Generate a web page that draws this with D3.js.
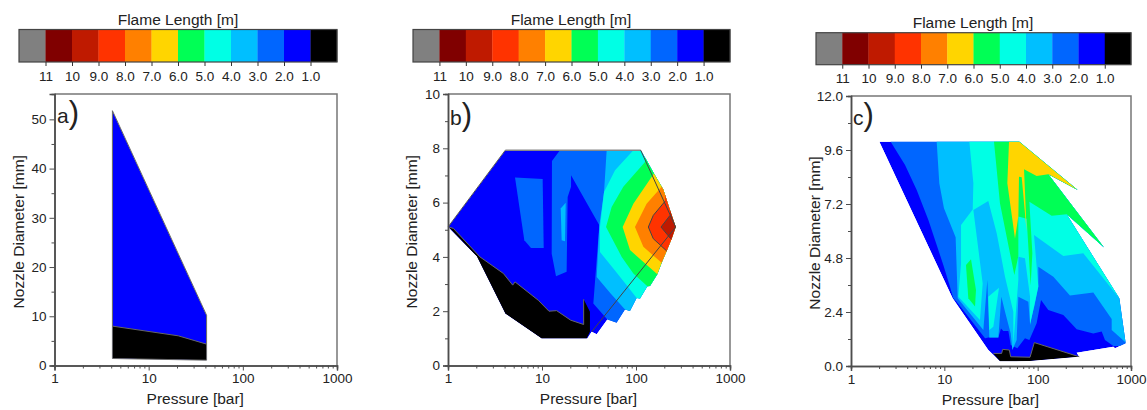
<!DOCTYPE html>
<html><head><meta charset="utf-8">
<script src="https://cdn.jsdelivr.net/npm/d3@7"></script>
<style>html,body{margin:0;padding:0;background:#fff}svg{display:block}text{font-family:"Liberation Sans",Arial,sans-serif;fill:#222}</style>
</head><body><svg id="c" width="1147" height="410"></svg>
<script>
// Colour scale (legend)
const legendColors=["#808080","#800000","#bf1a00","#ff3300","#ff8000","#ffd500","#00ff55","#00ffe5","#00bfff","#0066ff","#0000ff","#000000"];
const legendLabels=["11","10","9.0","8.0","7.0","6.0","5.0","4.0","3.0","2.0","1.0"];
const xTicks=[1,10,100,1000];
const xMinor=[2,3,4,5,6,7,8,9,20,30,40,50,60,70,80,90,200,300,400,500,600,700,800,900];
const B1="#0000ff",B2="#0066ff",B3="#00bfff",B4="#00ffe5",B5="#00ff55",B6="#ffd500",B7="#ff8000",B8="#ff3300",B9="#bf1a00",K="#000000";

// All outlines: [log10(pressure/bar), nozzle diameter/mm]
// Panel a
const aHull=[[.615,51.76],[1.615,10.2],[1.615,1.08],[.615,1.42]];
const aBlack=[[.615,8],[1.314,6.03],[1.615,4.34],[1.615,1.08],[.615,1.42]];
// Panel b
const bHull=[[0,5.1],[.61,7.93],[2.05,7.93],[2.113,7.56],[2.191,7.07],[2.291,6.48],[2.362,5.72],[2.422,5.1],[2.379,4.67],[2.326,4.22],[2.273,3.78],[2.227,3.36],[2.149,2.93],[2.121,2.92],[2.043,2.47],[2.007,2.49],[1.936,2.01],[1.883,2.06],[1.794,1.57],[1.695,1.69],[1.582,1.15],[1.528,1.24],[1.482,.99],[.996,.99],[.61,1.91],[.305,4.02]];
const bBlack=[[.007,5.1],[.305,4.02],[.61,1.91],[.996,.99],[1.475,.99],[1.51,1.24],[1.51,1.98],[1.443,2.44],[1.443,1.51],[1.305,1.67],[1.156,2.02],[1.074,2],[.961,2.4],[.713,3.08],[.688,2.96],[.589,3.39],[.34,4],[.057,5.05]];
const bIsland2=[[.713,6.92],[1.007,6.87],[1.018,4.33],[.883,4.33],[.812,4.61]];
const bIsland3=[[1.252,5.99],[1.199,5.78],[1.209,4.61],[1.245,4.58]];
const bBand2=[[1.191,7.93],[1.106,7.53],[1.103,4.12],[1.149,3.29],[1.262,3.45],[1.273,6.21],[1.309,6.58],[1.309,7.01],[1.61,5.17],[1.546,2.28],[1.695,1.69],[1.794,1.3]];
const bBand3=[[1.688,7.93],[1.66,6.39],[1.61,5.17],[1.582,3.26],[1.73,2.65],[1.883,2.06],[1.936,1.67]];
const bBand4=[[1.972,7.93],[1.777,7.19],[1.66,6.39],[1.617,5.1],[1.617,4.18],[1.759,3.57],[1.901,2.96],[2.007,2.49],[2.06,2.04]];
const bBand5=[[2.096,7.5],[1.865,6.58],[1.741,5.84],[1.681,5.1],[1.848,4],[1.972,3.39],[2.121,2.92],[2.184,2.4]];
const bBand6=[[2.191,7.07],[1.972,5.96],[1.858,5.1],[1.936,4.25],[2.227,3.36],[2.29,2.9]];
const bBand7=[[2.273,6.58],[2.113,5.96],[1.989,5.1],[2.078,4.37],[2.273,3.78],[2.326,3.39]];
const bBand8=[[2.309,6.05],[2.184,5.53],[2.131,5.1],[2.184,4.67],[2.326,4.22],[2.397,3.94]];
const bBand9=[[2.362,5.53],[2.266,5.1],[2.369,4.67],[2.433,4.37]];
const bLine1=[[0,5.1],[.61,7.93]];
const bLine2=[[.61,7.93],[2.05,7.93]];
const bLine3=[[2.05,7.93],[2.422,5.1],[1.528,1.24]];
const bLine4=[[2.309,6.05],[2.184,5.53],[2.131,5.1],[2.184,4.67],[2.326,4.22]];
const bLine5=[[2.362,5.53],[2.266,5.1],[2.369,4.67]];
// Panel c
const cHull=[[.304,9.97],[1.804,9.97],[2.429,7.82],[2.114,8.52],[2.711,5.27],[2.311,6.74],[2.875,3.01],[2.943,1.01],[2.829,.79],[2.811,.86],[2.418,.59],[2.446,.41],[1.918,.22],[1.596,.21],[1.471,.71],[1.089,3.01]];
const cBand2=[[.425,9.97],[.579,8.93],[.704,7.82],[.829,6.49],[.989,4.49],[1.05,3.67],[1.096,3.01],[1.132,2.86],[1.436,1.23],[1.471,1.27],[1.579,1.27],[1.607,1.67],[1.632,1.56],[1.686,1.56],[1.711,.93],[1.782,.79],[1.864,1.23],[1.911,1.16],[1.989,1.9],[2.036,2.93],[2.114,2.49],[2.275,2.27],[2.418,1.63],[2.596,1.45],[2.686,1.53],[2.721,1.16],[2.811,.89]];
const cBand3=[[.918,9.97],[.946,8.12],[.996,7.01],[1.121,5.72],[1.143,3.01],[1.418,1.6],[1.461,3.82],[1.482,1.27],[1.579,1.27],[1.611,3.08],[1.65,2.41],[1.711,1.45],[1.729,.71],[1.775,1.16],[1.793,3.08],[1.9,2.86],[1.918,1.9],[1.964,2.64],[2.007,3.53],[2.007,4.41],[2.168,3.97],[2.346,3.13],[2.596,3.27],[2.793,2.09],[2.793,1.6],[2.943,1.04]];
const cBand4=[[1.268,9.97],[1.311,8.12],[1.304,6.96],[1.179,6.27],[1.179,4.56],[1.15,3.08],[1.382,2.04],[1.411,3.67],[1.311,6.93],[1.471,7.33],[1.561,5.9],[1.65,3.97],[1.739,2.41],[1.739,.93],[1.793,3.82],[1.793,4.86],[1.864,4.79],[1.918,3.08],[1.918,1.82],[2.007,3.53],[1.961,5.82],[2.275,4.89],[2.489,5.01],[2.875,3.01]];
const cBand4b=[[1.471,3.08],[1.586,3.48],[1.525,1.75],[1.482,1.6]];
const cBand5=[[1.532,9.97],[1.596,7.23],[1.75,4.04],[1.793,4.89],[1.793,6.64],[1.882,6.55],[1.925,3.57],[1.943,5.01],[1.911,7.3],[2.15,6.68],[2.311,6.74],[2.711,5.27]];
const cBand5b=[[1.286,4.74],[1.232,4.49],[1.257,3.01],[1.329,2.64],[1.339,3.38]];
const cBand6=[[1.693,9.97],[1.675,8.12],[1.757,5.67],[1.793,6.64],[1.8,8.41],[1.829,8.39],[1.882,5.97],[1.854,8.74],[1.989,8.44],[2.114,8.52],[2.429,7.82],[1.804,9.97]];
const cBlack=[[1.525,.56],[1.614,.56],[1.625,.74],[1.696,.71],[1.711,.41],[1.918,.39],[1.964,1.04],[2.446,.41],[1.918,.22],[1.596,.21]];

// Polygons that run off the right of the hull are closed outside it and clipped
const past=p=>{const a=p[0],z=p[p.length-1];return p.concat([[3.3,z[1]],[3.3,14],[a[0],14]])};

const panels=[
 {id:"a",label:"a",box:[54.5,337,94,365.5],yMax:55.15,yTicks:[0,10,20,30,40,50],yMinor:[5,15,25,35,45],fmt:d3.format("d"),
  bar:[19,337,29.5,62],title:178,tx:57,ty:123,hull:aHull,
  layers:[[aHull,B1],[aBlack,K]],lines:[[aHull.concat([aHull[0]]),"#666",1],[[aBlack[0],aBlack[1],aBlack[2]],"#666",1]]},
 {id:"b",label:"b",box:[448,730,94,365.5],yMax:10,yTicks:[0,2,4,6,8,10],yMinor:[1,3,5,7,9],fmt:d3.format("d"),
  bar:[413,730,29.5,62],title:571,tx:450,ty:125,hull:bHull,
  layers:[[bHull,B1],[past(bBand2),B2],[bIsland2,B2],[bIsland3,B3],[past(bBand3),B3],[past(bBand4),B4],[past(bBand5),B5],[past(bBand6),B6],[past(bBand7),B7],[past(bBand8),B8],[past(bBand9),B9],[bBlack,K]],
  lines:[[bLine1,"#555",1],[bLine2,"#888",1.5],[bLine3,"#444",1],[bLine4,"#444",1],[bLine5,"#444",1],[bBlack.slice(7).concat([bBlack[0]]),"#666",1]]},
 {id:"c",label:"c",box:[851,1131,96,366],yMax:12,yTicks:[0,2.4,4.8,7.2,9.6,12],yMinor:[1.2,3.6,6,8.4,10.8],fmt:d3.format(".1f"),
  bar:[816,1131,32.7,64.7],title:973,tx:853,ty:125,hull:cHull,
  layers:[[cHull,B1],[past(cBand2),B2],[past(cBand3),B3],[past(cBand4),B4],[cBand4b,B4],[past(cBand5),B5],[cBand5b,B5],[cBand6,B6],[cBlack,K]],
  lines:[[cBlack.slice(0,8),"#666",1]]}
];

const svg=d3.select("#c");
const AX="#4d4d4d",FR="#777";
panels.forEach(P=>{
 const [L,R,T,Bt]=P.box;
 const x=d3.scaleLog().domain([1,1000]).range([L,R]);
 const y=d3.scaleLinear().domain([0,P.yMax]).range([Bt,T]);
 const g=svg.append("g");
 // colour bar
 const [bl,br,bt,bb]=P.bar;
 const cx=d3.scaleLinear().domain([0,legendColors.length]).range([bl,br]);
 g.selectAll("rect.band").data(legendColors).join("rect").attr("x",(d,i)=>cx(i)).attr("y",bt)
  .attr("width",(d,i)=>cx(i+1)-cx(i)+.3).attr("height",bb-bt).attr("fill",d=>d);
 g.append("rect").attr("x",bl).attr("y",bt).attr("width",br-bl).attr("height",bb-bt).attr("fill","none").attr("stroke","#444").attr("stroke-width",1.2);
 const cAxis=d3.axisBottom(cx).tickValues(legendLabels.map((d,i)=>i+1)).tickFormat((d,i)=>legendLabels[i]).tickSize(4).tickPadding(5);
 const cg=g.append("g").attr("transform",`translate(0,${bb})`).call(cAxis);
 cg.select(".domain").remove();
 cg.selectAll("text").style("font-size","13.5px").attr("fill","#222");
 cg.selectAll("line").attr("stroke","#333");
 g.append("text").attr("x",P.title).attr("y",bt-5).attr("text-anchor","middle").style("font-size","15.5px").text("Flame Length [m]");
 // contour fills
 const clipId="clip-"+P.id;
 const line=d3.line().x(d=>x(Math.pow(10,d[0]))).y(d=>y(d[1]));
 g.append("clipPath").attr("id",clipId).append("path").attr("d",line(P.hull)+"Z");
 const pg=g.append("g").attr("clip-path",`url(#${clipId})`);
 pg.selectAll("path").data(P.layers).join("path").attr("d",d=>line(d[0])+"Z").attr("fill",d=>d[1]);
 g.append("g").selectAll("path").data(P.lines).join("path").attr("d",d=>line(d[0])).attr("fill","none").attr("stroke",d=>d[1]).attr("stroke-width",d=>d[2]);
 // frame
 g.append("path").attr("d",`M${L},${T}H${R}V${Bt}`).attr("fill","none").attr("stroke",FR).attr("stroke-width",1.5);
 // axes
 const xa=g.append("g").attr("transform",`translate(0,${Bt})`).call(d3.axisBottom(x).tickValues(xTicks).tickFormat(d3.format("d")).tickSize(5).tickPadding(3));
 const xm=g.append("g").attr("transform",`translate(0,${Bt})`).call(d3.axisBottom(x).tickValues(xMinor).tickFormat("").tickSize(3));
 const ya=g.append("g").attr("transform",`translate(${L},0)`).call(d3.axisLeft(y).tickValues(P.yTicks.filter(v=>v<=P.yMax)).tickFormat(P.fmt).tickSize(5).tickPadding(3));
 const ym=g.append("g").attr("transform",`translate(${L},0)`).call(d3.axisLeft(y).tickValues(P.yMinor).tickFormat("").tickSize(3));
 [xa,xm,ya,ym].forEach(s=>{s.selectAll("line").attr("stroke",AX).attr("stroke-width",1);s.select(".domain").attr("stroke",AX).attr("stroke-width",1.5)});
 [xa,ya].forEach(s=>s.selectAll("text").style("font-size","13.5px"));
 g.append("text").attr("x",(L+R)/2-.5).attr("y",Bt+38.5).attr("text-anchor","middle").style("font-size","15.5px").text("Pressure [bar]");
 g.append("text").attr("transform",`translate(${L-31},${(T+Bt)/2+2}) rotate(-90)`).attr("text-anchor","middle").style("font-size","15.5px").text("Nozzle Diameter [mm]");
 const t=g.append("text").attr("x",P.tx).attr("y",P.ty).style("font-size","21px");
 t.append("tspan").text(P.label);
 t.append("tspan").style("font-size","31px").text(")");
});
</script></body></html>
